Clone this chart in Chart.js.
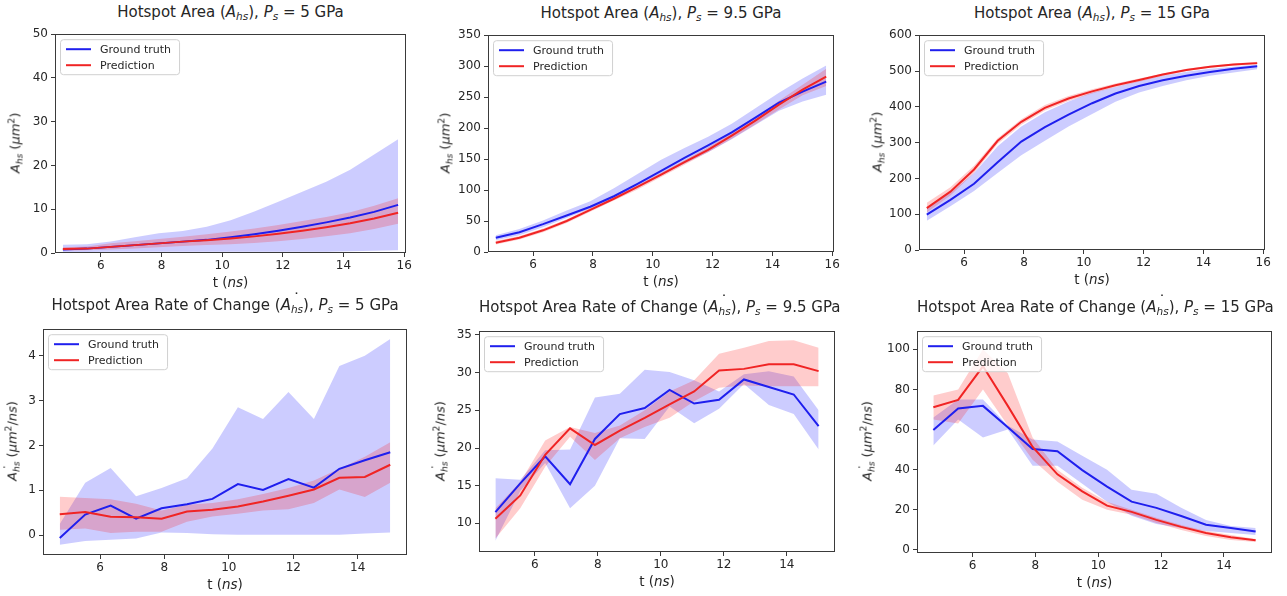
<!DOCTYPE html>
<html>
<head>
<meta charset="utf-8">
<script src="https://cdn.jsdelivr.net/npm/chart.js@4/dist/chart.umd.min.js"></script>
<style>
body { margin: 0; background: #fff; width: 1287px; height: 596px; position: relative; overflow: hidden;
       font-family: "DejaVu Sans", sans-serif; color: #262626; }
canvas { position: absolute; }
.title { position: absolute; text-align: center; font-size: 15px; white-space: nowrap; }
.xlab { position: absolute; text-align: center; font-size: 13.5px; white-space: nowrap; }
.ylab { position: absolute; font-size: 13px; white-space: nowrap; transform: translate(-50%, -50%) rotate(-90deg); }
sub { font-size: 70%; vertical-align: -0.3em; line-height: 0; }
sup { font-size: 70%; vertical-align: 0.5em; line-height: 0; }
.dot { display: inline-block; width: 0; position: relative; top: -0.32em; left: 0.12em; font-style: normal; }
</style>
</head>
<body>
<script>
'use strict';

// time grids (ns)
const tArea = [4.75, 5.54, 6.33, 7.12, 7.91, 8.70, 9.49, 10.28, 11.06, 11.85, 12.64, 13.43, 14.22, 15.01, 15.80];
const tRate = [4.75, 5.54, 6.33, 7.12, 7.91, 8.70, 9.49, 10.28, 11.06, 11.85, 12.64, 13.43, 14.22, 15.01];

// Hotspot area, Ps = 5 GPa
const a5True   = [0.8, 1.0, 1.4, 1.8, 2.2, 2.6, 3.0, 3.6, 4.3, 5.1, 6.0, 7.0, 8.1, 9.4, 11.0];
const a5TrueHi = [1.9, 2.0, 2.6, 3.6, 4.5, 5.0, 6.0, 7.5, 9.5, 11.7, 14.0, 16.3, 19.0, 22.5, 26.0];
const a5TrueLo = [0.2, 0.2, 0.3, 0.3, 0.3, 0.3, 0.3, 0.3, 0.3, 0.3, 0.3, 0.3, 0.4, 0.5, 0.6];
const a5Pred   = [0.9, 1.0, 1.4, 1.8, 2.2, 2.6, 2.9, 3.3, 3.8, 4.4, 5.1, 5.9, 6.8, 7.9, 9.2];
const a5PredHi = [1.3, 1.5, 2.2, 2.7, 3.2, 3.7, 4.3, 4.9, 5.6, 6.4, 7.3, 8.2, 9.3, 10.8, 12.5];
const a5PredLo = [0.5, 0.6, 0.8, 1.0, 1.3, 1.6, 1.8, 2.0, 2.3, 2.7, 3.2, 3.8, 4.5, 5.5, 6.7];

// Hotspot area, Ps = 9.5 GPa
const a95True   = [23, 32, 45, 59, 73, 90, 110, 131, 152, 172, 193, 217, 241, 259, 275];
const a95TrueHi = [27, 37, 51, 67, 82, 103, 126, 149, 168, 186, 207, 232, 257, 280, 301];
const a95TrueLo = [19, 27, 40, 55, 70, 86, 105, 124, 143, 161, 182, 205, 228, 243, 254];
const a95Pred   = [15, 23, 35, 50, 68, 86, 105, 125, 145, 165, 188, 212, 238, 262, 283];
const a95PredHi = [18, 26, 38, 53, 71, 89, 108, 128, 148, 169, 192, 217, 244, 270, 296];
const a95PredLo = [12, 20, 32, 47, 65, 83, 101, 121, 141, 161, 183, 206, 230, 253, 268];

// Hotspot area, Ps = 15 GPa
const a15True   = [99, 140, 185, 245, 303, 343, 378, 410, 437, 458, 474, 487, 497, 506, 513];
const a15TrueHi = [115, 160, 215, 290, 345, 385, 415, 440, 455, 472, 487, 498, 506, 512, 518];
const a15TrueLo = [82, 122, 165, 215, 265, 305, 345, 380, 414, 440, 458, 474, 487, 496, 505];
const a15Pred   = [117, 163, 225, 305, 358, 397, 423, 443, 460, 475, 490, 503, 512, 518, 522];
const a15PredHi = [132, 175, 235, 312, 365, 405, 430, 449, 465, 479, 493, 506, 515, 521, 526];
const a15PredLo = [105, 152, 215, 297, 350, 390, 416, 437, 455, 470, 486, 500, 509, 515, 518];

// Rate of change, Ps = 5 GPa
const r5True   = [-0.06, 0.46, 0.66, 0.37, 0.60, 0.69, 0.81, 1.14, 1.01, 1.25, 1.06, 1.48, 1.67, 1.85];
const r5TrueHi = [0.25, 1.17, 1.50, 0.87, 1.05, 1.27, 1.93, 2.85, 2.59, 3.19, 2.59, 3.77, 4.00, 4.37];
const r5TrueLo = [-0.21, -0.13, -0.10, -0.07, 0.06, 0.05, 0.02, 0.01, 0.01, 0.01, 0.01, 0.01, 0.04, 0.06];
const r5Pred   = [0.47, 0.52, 0.41, 0.40, 0.37, 0.53, 0.57, 0.64, 0.75, 0.88, 1.02, 1.28, 1.30, 1.57];
const r5PredHi = [0.86, 0.83, 0.80, 0.70, 0.55, 0.68, 0.72, 0.80, 0.92, 1.05, 1.22, 1.48, 1.75, 2.07];
const r5PredLo = [0.12, 0.15, 0.05, 0.08, 0.08, 0.30, 0.42, 0.48, 0.55, 0.58, 0.72, 1.02, 0.85, 1.17];

// Rate of change, Ps = 9.5 GPa
const r95True   = [11.5, 15.3, 18.9, 15.2, 21.2, 24.5, 25.3, 27.7, 25.9, 26.4, 29.1, 28.1, 27.1, 22.9];
const r95TrueHi = [16.0, 15.8, 19.7, 19.8, 26.7, 27.2, 30.4, 30.1, 29.0, 27.5, 29.8, 30.2, 29.5, 25.0];
const r95TrueLo = [7.7, 14.3, 18.0, 12.0, 15.0, 21.3, 21.2, 25.5, 23.3, 25.2, 28.5, 25.7, 24.5, 19.8];
const r95Pred   = [10.6, 13.7, 19.1, 22.6, 20.4, 22.3, 24.0, 25.8, 27.5, 30.3, 30.5, 31.1, 31.1, 30.2];
const r95PredHi = [12.0, 15.5, 21.0, 22.8, 22.0, 23.0, 25.0, 27.5, 29.0, 32.5, 33.3, 34.2, 34.3, 33.3];
const r95PredLo = [8.0, 12.0, 17.5, 21.5, 18.4, 21.3, 22.8, 24.0, 26.2, 28.0, 28.3, 28.2, 28.2, 28.2];

// Rate of change, Ps = 15 GPa
const r15True   = [59.8, 70.5, 71.8, 61.1, 50.3, 49.2, 39.8, 31.6, 24.1, 21.0, 16.9, 12.6, 11.0, 9.2];
const r15TrueHi = [66, 75, 75, 62, 55, 54, 47, 40, 30, 28, 21, 15, 12, 11];
const r15TrueLo = [52, 65, 56, 60, 42, 42, 33, 24, 17, 13, 11, 9.5, 8.5, 7.5];
const r15Pred   = [71.1, 74.8, 91.5, 71.8, 51.3, 37.7, 29.2, 22.1, 19.0, 15.0, 11.5, 8.5, 6.3, 4.8];
const r15PredHi = [77, 80, 100, 88, 56, 40, 31, 24, 20, 16, 12.5, 9.5, 7.5, 5.5];
const r15PredLo = [65, 63, 80, 62, 45, 34, 25, 20, 17.5, 13.5, 10, 7, 5, 4];

// tick labels
const xTicksArea = [6, 8, 10, 12, 14, 16];
const xTicksRate = [6, 8, 10, 12, 14];
const yTicksA5 = [0, 10, 20, 30, 40, 50];
const yTicksA95 = [0, 50, 100, 150, 200, 250, 300, 350];
const yTicksA15 = [0, 100, 200, 300, 400, 500, 600];
const yTicksR5 = [0, 1, 2, 3, 4];
const yTicksR95 = [10, 15, 20, 25, 30, 35];
const yTicksR15 = [0, 20, 40, 60, 80, 100];

const legendLabels = ['Ground truth', 'Prediction'];
const pressures = ['5', '9.5', '15'];

const BLUE = '#1f1fee';
const RED = '#f02424';
const BLUE_FILL = 'rgba(0, 0, 255, 0.2)';
const RED_FILL = 'rgba(255, 0, 0, 0.2)';
const AXIS = '#3a3a3a';

const areaName = '<i>A<sub>hs</sub></i>';
const rateName = '<i>A<span class="dot">˙</span><sub>hs</sub></i>';

const panels = [
    {box: [55, 32, 406, 253], t: tArea, xr: [4.49, 16.06], yr: [0, 50], xt: xTicksArea, yt: yTicksA5,
     s: [a5True, a5TrueHi, a5TrueLo, a5Pred, a5PredHi, a5PredLo], kind: 'area', p: 0, ylx: 15},
    {box: [488, 33, 834, 252], t: tArea, xr: [4.49, 16.06], yr: [0, 350], xt: xTicksArea, yt: yTicksA95,
     s: [a95True, a95TrueHi, a95TrueLo, a95Pred, a95PredHi, a95PredLo], kind: 'area', p: 1, ylx: 445},
    {box: [919, 33, 1265, 250], t: tArea, xr: [4.49, 16.06], yr: [0, 600], xt: xTicksArea, yt: yTicksA15,
     s: [a15True, a15TrueHi, a15TrueLo, a15Pred, a15PredHi, a15PredLo], kind: 'area', p: 2, ylx: 877},
    {box: [43, 327, 407, 555], t: tRate, xr: [4.23, 15.53], yr: [-0.44, 4.59], xt: xTicksRate, yt: yTicksR5,
     s: [r5True, r5TrueHi, r5TrueLo, r5Pred, r5PredHi, r5PredLo], kind: 'rate', p: 0, ylx: 12},
    {box: [479, 329, 835, 552], t: tRate, xr: [4.23, 15.53], yr: [6.2, 35.5], xt: xTicksRate, yt: yTicksR95,
     s: [r95True, r95TrueHi, r95TrueLo, r95Pred, r95PredHi, r95PredLo], kind: 'rate', p: 1, ylx: 440},
    {box: [917, 329, 1272, 553], t: tRate, xr: [4.23, 15.53], yr: [-1.5, 109], xt: xTicksRate, yt: yTicksR15,
     s: [r15True, r15TrueHi, r15TrueLo, r15Pred, r15PredHi, r15PredLo], kind: 'rate', p: 2, ylx: 867}
];

const Y_W = 45, X_H = 22, PAD_T = 8, PAD_R = 12;

// frame round the axes, like matplotlib
const framePlugin = {
    id: 'frame',
    afterDraw(chart) {
        const a = chart.chartArea, ctx = chart.ctx;
        ctx.save();
        ctx.strokeStyle = AXIS;
        ctx.lineWidth = 1;
        ctx.strokeRect(Math.round(a.left) + 0.5, Math.round(a.top) + 0.5,
                       Math.round(a.right - a.left) - 1, Math.round(a.bottom - a.top) - 1);
        ctx.restore();
    }
};

// legend box in the upper left corner of the axes
const boxLegend = {
    id: 'boxLegend',
    afterDraw(chart) {
        const a = chart.chartArea, ctx = chart.ctx;
        ctx.save();
        ctx.font = '11px "DejaVu Sans"';
        const tw = Math.max(...legendLabels.map(l => ctx.measureText(l).width));
        const x = a.left + 5, y = a.top + 5, w = 8 + 25 + 9 + tw + 6, h = 35;
        ctx.fillStyle = 'rgba(255,255,255,0.8)';
        ctx.strokeStyle = '#d0d0d0';
        ctx.beginPath();
        if (ctx.roundRect) ctx.roundRect(x + 0.5, y + 0.5, w, h, 3); else ctx.rect(x + 0.5, y + 0.5, w, h);
        ctx.fill();
        ctx.stroke();
        [BLUE, RED].forEach((c, i) => {
            const ly = y + 10 + i * 16;
            ctx.strokeStyle = c;
            ctx.lineWidth = 2;
            ctx.beginPath();
            ctx.moveTo(x + 6, ly);
            ctx.lineTo(x + 31, ly);
            ctx.stroke();
            ctx.fillStyle = '#262626';
            ctx.textBaseline = 'middle';
            ctx.fillText(legendLabels[i], x + 40, ly + 1);
        });
        ctx.restore();
    }
};

function addDiv(cls, html, style) {
    const d = document.createElement('div');
    d.className = cls;
    d.innerHTML = html;
    Object.assign(d.style, style);
    document.body.appendChild(d);
    return d;
}

function band(t, hi, lo, fillColor, order) {
    return [
        {data: t.map((x, i) => ({x, y: hi[i]})), borderWidth: 0, pointRadius: 0,
         backgroundColor: fillColor, fill: '+1', order},
        {data: t.map((x, i) => ({x, y: lo[i]})), borderWidth: 0, pointRadius: 0, fill: false, order}
    ];
}

function line(t, v, color) {
    return {data: t.map((x, i) => ({x, y: v[i]})), borderColor: color, borderWidth: 2,
            pointRadius: 0, fill: false, tension: 0, order: 0};
}

panels.forEach(pn => {
    const [L, T, R, B] = pn.box;
    const cv = document.createElement('canvas');
    const w = (R - L) + Y_W + PAD_R, h = (B - T) + PAD_T + X_H;
    cv.width = w;
    cv.height = h;
    cv.style.left = (L - Y_W) + 'px';
    cv.style.top = (T - PAD_T) + 'px';
    cv.style.width = w + 'px';
    cv.style.height = h + 'px';
    document.body.appendChild(cv);

    const [tr, trHi, trLo, pr, prHi, prLo] = pn.s;
    const datasets = [
        line(pn.t, pr, RED),
        line(pn.t, tr, BLUE),
        ...band(pn.t, prHi, prLo, RED_FILL, 1),
        ...band(pn.t, trHi, trLo, BLUE_FILL, 2)
    ];

    const tickFont = {family: 'DejaVu Sans', size: 12};
    new Chart(cv, {
        type: 'line',
        data: {datasets},
        options: {
            responsive: false,
            animation: false,
            events: [],
            layout: {padding: {top: PAD_T, right: PAD_R, left: 0, bottom: 0}},
            plugins: {legend: {display: false}, tooltip: {enabled: false}},
            scales: {
                x: {
                    type: 'linear', min: pn.xr[0], max: pn.xr[1],
                    afterBuildTicks: s => { s.ticks = pn.xt.map(v => ({value: v})); },
                    afterFit: s => { s.height = X_H; },
                    grid: {drawOnChartArea: false, drawTicks: true, tickLength: 4, color: AXIS},
                    border: {display: false},
                    ticks: {font: tickFont, color: '#262626', padding: 2, maxRotation: 0}
                },
                y: {
                    type: 'linear', min: pn.yr[0], max: pn.yr[1],
                    afterBuildTicks: s => { s.ticks = pn.yt.map(v => ({value: v})); },
                    afterFit: s => { s.width = Y_W; },
                    grid: {drawOnChartArea: false, drawTicks: true, tickLength: 4, color: AXIS},
                    border: {display: false},
                    ticks: {font: tickFont, color: '#262626', padding: 3}
                }
            }
        },
        plugins: [framePlugin, boxLegend]
    });

    const name = pn.kind === 'area' ? areaName : rateName;
    const titleHead = pn.kind === 'area' ? 'Hotspot Area' : 'Hotspot Area Rate of Change';
    const titleTop = pn.kind === 'area' ? T - 29 : T - 31;
    addDiv('title', `${titleHead} (${name}), <i>P<sub>s</sub></i> = ${pressures[pn.p]} GPa`,
           {left: L + 'px', width: (R - L) + 'px', top: titleTop + 'px'});
    addDiv('xlab', 't (<i>ns</i>)', {left: L + 'px', width: (R - L) + 'px', top: (B + 21) + 'px'});
    const unit = pn.kind === 'area' ? '(<i>μm</i><sup>2</sup>)' : '(<i>μm</i><sup>2</sup>/<i>ns</i>)';
    addDiv('ylab', `${name} ${unit}`, {left: pn.ylx + 'px', top: ((T + B) / 2) + 'px'});
});
</script>
</body>
</html>
